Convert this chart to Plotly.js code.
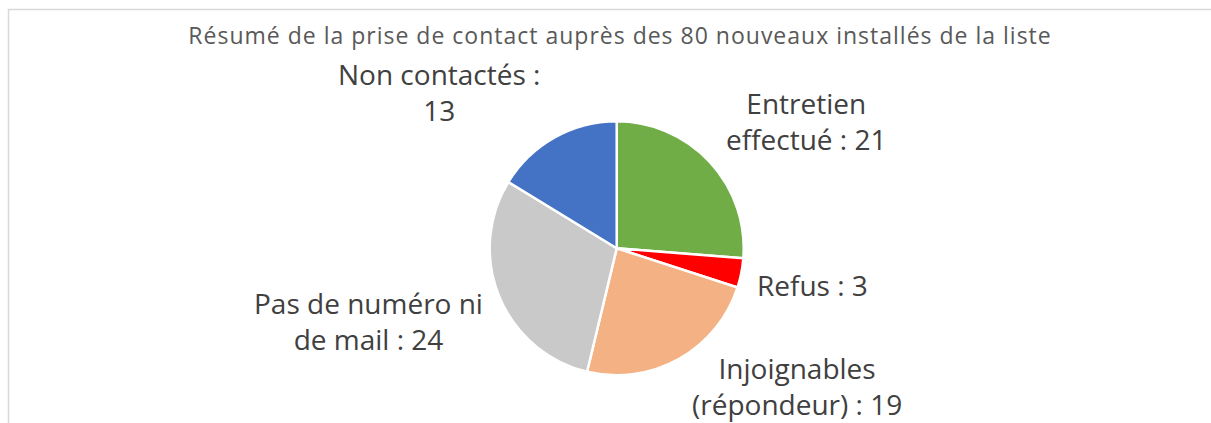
<!DOCTYPE html>
<html>
<head>
<meta charset="utf-8">
<script src="https://cdn.plot.ly/plotly-3.0.1.min.js"></script>
<style>html,body{margin:0;padding:0;background:#fff;}#chart{width:1211px;height:423px;}
.gtitle{letter-spacing:1px;}</style>
</head>
<body>
<div id="chart"></div>
<script>
const categories = ["Entretien effectué", "Refus", "Injoignables (répondeur)", "Pas de numéro ni de mail", "Non contactés"];
const labelLines = ["Entretien<br>effectué : ", "Refus : ", "Injoignables<br>(répondeur) : ", "Pas de numéro ni<br>de mail : ", "Non contactés :<br>"];
const values = [21, 3, 19, 24, 13];
const colors = ["#70AD47", "#FF0000", "#F4B183", "#C9C9C9", "#4472C4"];

const W = 1211, H = 423;
const cx = 616.7, cy = 248.3, r = 127;
// label anchor positions (pixels, centre of each label block)
const labelPos = [[806, 121], [812, 285], [797, 386], [368, 321], [439, 92]];

const trace = {
  type: "pie",
  labels: categories,
  values: values,
  sort: false,
  direction: "clockwise",
  rotation: 0,
  marker: {colors: colors, line: {color: "#FFFFFF", width: 2.5}},
  textinfo: "none",
  hoverinfo: "label+value",
  showlegend: false,
  domain: {x: [(cx - r) / W, (cx + r) / W], y: [1 - (cy + r) / H, 1 - (cy - r) / H]}
};

const annotations = categories.map((c, i) => ({
  xref: "paper", yref: "paper",
  x: labelPos[i][0] / W, y: 1 - labelPos[i][1] / H,
  xanchor: "center", yanchor: "middle", align: "center",
  showarrow: false,
  text: labelLines[i] + values[i],
  font: {family: "Open Sans, sans-serif", size: 28, color: "#404040"}
}));

const layout = {
  width: W, height: H,
  margin: {l: 0, r: 0, t: 0, b: 0},
  paper_bgcolor: "#FFFFFF",
  title: {text: "Résumé de la prise de contact auprès des 80 nouveaux installés de la liste",
          font: {family: "Open Sans, sans-serif", size: 23, color: "#595959"},
          x: 0.512, xanchor: "center", y: 1 - 36 / H, yanchor: "middle"},
  annotations: annotations,
  shapes: [{type: "rect", xref: "paper", yref: "paper",
            x0: 8.5 / W, x1: 1.05, y0: -0.05, y1: 1 - 9.5 / H,
            line: {color: "#D9D9D9", width: 1.5}, fillcolor: "rgba(0,0,0,0)"}]
};

Plotly.newPlot("chart", [trace], layout, {staticPlot: true, displayModeBar: false});
</script>
</body>
</html>
